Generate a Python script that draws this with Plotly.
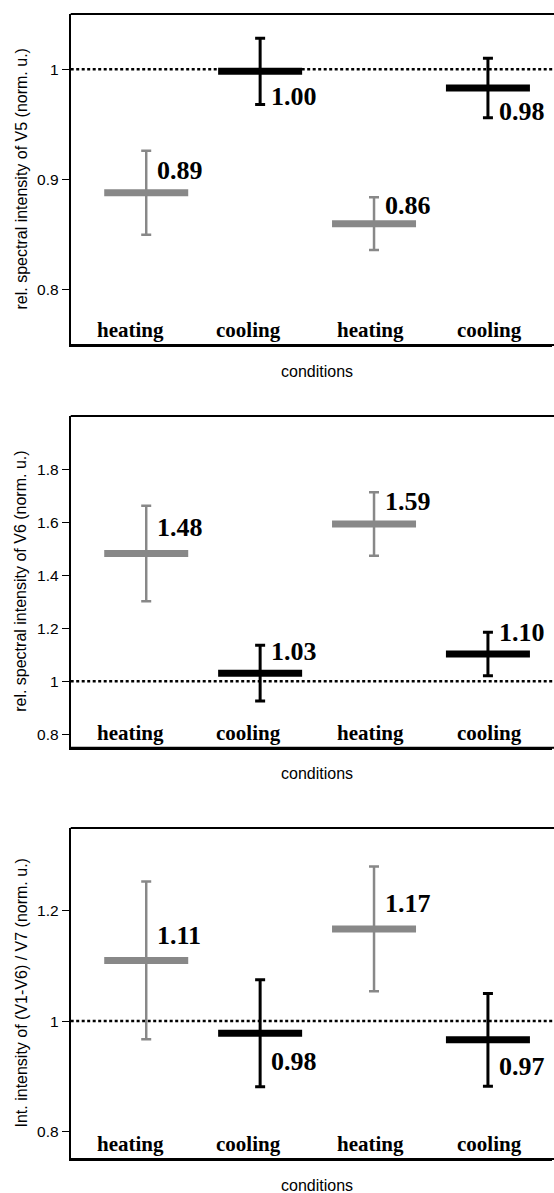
import plotly.graph_objects as go

conditions = ["heating", "cooling", "heating", "cooling"]
x_pos = [1, 2, 3, 4]

v5_mean = [0.888, 0.998, 0.860, 0.983]
v5_err = [0.038, 0.030, 0.024, 0.027]

v6_mean = [1.482, 1.031, 1.593, 1.103]
v6_err = [0.180, 0.105, 0.120, 0.082]

v17_mean = [1.110, 0.978, 1.167, 0.966]
v17_err = [0.143, 0.097, 0.113, 0.084]

v5_ticks = [0.8, 0.9, 1.0]
v5_ticktext = ["0.8", "0.9", "1"]
v6_ticks = [0.8, 1.0, 1.2, 1.4, 1.6, 1.8]
v6_ticktext = ["0.8", "1", "1.2", "1.4", "1.6", "1.8"]
v17_ticks = [0.8, 1.0, 1.2]
v17_ticktext = ["0.8", "1", "1.2"]

y_titles = [
    "rel. spectral intensity of V5 (norm. u.)",
    "rel. spectral intensity of V6 (norm. u.)",
    "Int. intensity of (V1-V6) / V7 (norm. u.)",
]
x_title = "conditions"

W, H = 554, 1193
GRAY = "#888888"
BLACK = "#000000"
SANS = "Liberation Sans, Arial, Helvetica, sans-serif"
SERIF = "Liberation Serif, Times New Roman, serif"

panels = [
    dict(mean=v5_mean, err=v5_err, yrange=[0.75, 1.05], tickvals=v5_ticks,
         ticktext=v5_ticktext, top=14, bottom=345, lbl_shift=[22, -25, 18, -24]),
    dict(mean=v6_mean, err=v6_err, yrange=[0.75, 2.0], tickvals=v6_ticks,
         ticktext=v6_ticktext, top=416, bottom=747.7, lbl_shift=[26, 22, 23, 22]),
    dict(mean=v17_mean, err=v17_err, yrange=[0.75, 1.35], tickvals=v17_ticks,
         ticktext=v17_ticktext, top=828, bottom=1159, lbl_shift=[25, -28, 25, -27]),
]

# full (uncropped) axis: x=1 at 146.6 px, one category = 113.8 px
x_left_px = 70.7
x_right_px = 552
x_range = [0.337, 1 + (x_right_px - 146.6) / 113.8]
x_center_full = 2.495
cat_label_x = [0.86, 1.90, 2.97, 4.01]

fig = go.Figure()
annotations = []
shapes = []
layout = {}

for i, p in enumerate(panels, start=1):
    xa = "x" if i == 1 else f"x{i}"
    ya = "y" if i == 1 else f"y{i}"
    heat_idx = [k for k, c in enumerate(conditions) if c == "heating"]
    cool_idx = [k for k, c in enumerate(conditions) if c == "cooling"]
    for idx, col, thick in [(heat_idx, GRAY, 2.5), (cool_idx, BLACK, 3)]:
        fig.add_trace(go.Scatter(
            x=[x_pos[k] for k in idx],
            y=[p["mean"][k] for k in idx],
            mode="markers",
            marker=dict(symbol="line-ew", size=60, color=col,
                        line=dict(width=7, color=col)),
            error_y=dict(type="data", array=[p["err"][k] for k in idx],
                         color=col, thickness=thick, width=5),
            xaxis=xa, yaxis=ya, showlegend=False, hoverinfo="skip",
            cliponaxis=False,
        ))

    dom = [1 - p["bottom"] / H, 1 - p["top"] / H]
    layout[f"xaxis{i if i > 1 else ''}"] = dict(
        domain=[x_left_px / W, x_right_px / W], range=x_range, anchor=ya,
        showline=True, mirror=False, linecolor=BLACK, linewidth=2,
        showticklabels=False, ticks="", showgrid=False, zeroline=False,
    )
    layout[f"yaxis{i if i > 1 else ''}"] = dict(
        domain=dom, range=p["yrange"], anchor=xa,
        showline=True, mirror=False, linecolor=BLACK, linewidth=2,
        ticks="outside", ticklen=7, tickwidth=1, tickcolor=BLACK,
        tickvals=p["tickvals"], ticktext=p["ticktext"],
        tickfont=dict(family=SANS, size=15.5, color=BLACK),
        showgrid=False, zeroline=False,
    )

    # top frame line (extends to the figure edge; the right side is open)
    shapes.append(dict(type="line", xref="paper", yref=f"{ya} domain",
                       x0=x_left_px / W, x1=1, y0=1, y1=1, layer="above",
                       line=dict(color=BLACK, width=2)))
    # bottom frame extension to the figure edge
    shapes.append(dict(type="line", xref="paper", yref=f"{ya} domain",
                       x0=x_left_px / W, x1=1, y0=0, y1=0, layer="above",
                       line=dict(color=BLACK, width=2)))
    # reference line at 1
    shapes.append(dict(type="line", xref="paper", yref=ya,
                       x0=x_left_px / W, x1=1, y0=1, y1=1, layer="below",
                       line=dict(color=BLACK, width=2.5, dash="3px,2.5px")))

    for k in range(4):
        annotations.append(dict(
            xref=xa, yref=ya, x=x_pos[k], y=p["mean"][k],
            text=f"<b>{p['mean'][k]:.2f}</b>", showarrow=False,
            xanchor="left", yanchor="middle", xshift=9, yshift=p["lbl_shift"][k],
            font=dict(family=SERIF, size=26, color=BLACK),
        ))
    for k in range(4):
        annotations.append(dict(
            xref=xa, yref=f"{ya} domain", x=cat_label_x[k], y=0,
            text=f"<b>{conditions[k]}</b>", showarrow=False,
            xanchor="center", yanchor="middle", yshift=15,
            font=dict(family=SERIF, size=21, color=BLACK),
        ))
    annotations.append(dict(
        xref=xa, yref=f"{ya} domain", x=x_center_full, y=0,
        text=x_title, showarrow=False, xanchor="center", yanchor="middle",
        yshift=-26, font=dict(family=SANS, size=16, color=BLACK),
    ))
    annotations.append(dict(
        xref="paper", yref=f"{ya} domain", x=21 / W, y=0.5,
        text=y_titles[i - 1], showarrow=False, textangle=-90,
        xanchor="center", yanchor="middle",
        font=dict(family=SANS, size=16, color=BLACK),
    ))

fig.update_layout(
    width=W, height=H,
    margin=dict(l=0, r=0, t=0, b=0),
    paper_bgcolor="white", plot_bgcolor="white",
    annotations=annotations, shapes=shapes,
    **layout,
)

fig.write_html("out.html")
